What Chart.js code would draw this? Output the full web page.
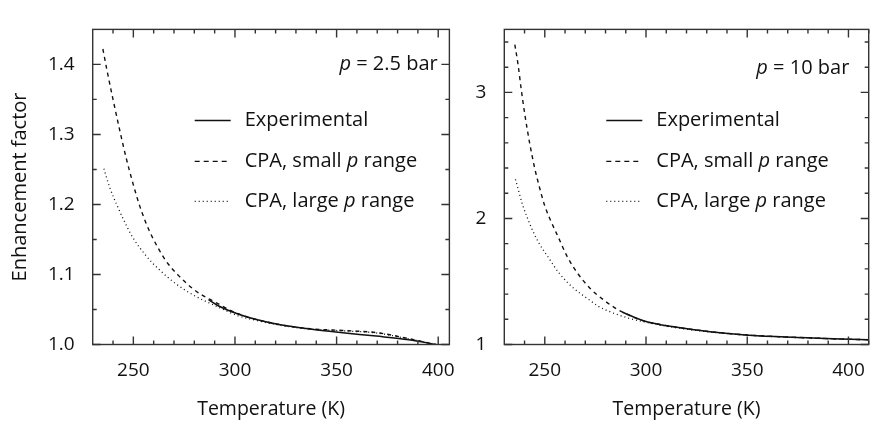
<!DOCTYPE html>
<html>
<head>
<meta charset="utf-8">
<script src="https://cdn.jsdelivr.net/npm/chart.js@4.4.1/dist/chart.umd.min.js"></script>
<style>
  html, body { margin: 0; padding: 0; background: #fff; overflow: hidden; width: 874px; height: 424px; position: relative; }
  canvas { position: absolute; top: 0; }
</style>
</head>
<body>
<canvas id="left" width="470" height="424" style="left:0"></canvas>
<canvas id="right" width="410" height="424" style="left:470px"></canvas>
<script>
const seriesLabels = ['Experimental', 'CPA, small p range', 'CPA, large p range']

// p = 2.5 bar
const t25Exp = [287, 292, 301.5, 310, 321, 337, 353, 369.5, 385.5, 399]
const f25Exp = [1.064, 1.055, 1.0436, 1.036, 1.029, 1.0222, 1.0169, 1.012, 1.0067, 1.0]
const t25Small = [235, 237, 240, 243.3, 246.5, 250, 253, 256, 259.4, 265.9, 272.4, 278.7, 283, 288, 301.5, 321, 337, 353, 369.5, 385.5, 398.7]
const f25Small = [1.422, 1.392, 1.350, 1.306, 1.266, 1.228, 1.199, 1.175, 1.153, 1.120, 1.098, 1.081, 1.072, 1.064, 1.044, 1.029, 1.0225, 1.020, 1.017, 1.0084, 1.0]
const t25Large = [235.5, 238.4, 242.4, 244.9, 249.7, 256.2, 262.7, 270.8, 280.5, 290.2, 301.5, 312.7, 321, 337, 353, 369.5, 385.5, 398.7]
const f25Large = [1.251, 1.224, 1.196, 1.180, 1.153, 1.127, 1.107, 1.087, 1.069, 1.0556, 1.041, 1.033, 1.028, 1.022, 1.0195, 1.0165, 1.008, 1.0]

// p = 10 bar
const t10Exp = [288.4, 299, 315.2, 331.5, 347.7, 363.9, 380, 396.3, 410]
const f10Exp = [1.256, 1.187, 1.137, 1.102, 1.078, 1.063, 1.053, 1.043, 1.038]
const t10Small = [235.2, 236.8, 238.4, 240, 242.5, 245, 247.5, 250, 253, 257, 261, 266, 272.4, 279.7, 284.4, 288.4, 299, 315.2, 331.5, 347.7, 363.9, 380, 396.3, 410]
const f10Small = [3.38, 3.22, 3.02, 2.84, 2.60, 2.40, 2.24, 2.10, 1.98, 1.84, 1.70, 1.57, 1.445, 1.346, 1.293, 1.256, 1.187, 1.137, 1.102, 1.078, 1.063, 1.053, 1.043, 1.038]
const t10Large = [235.5, 239.2, 240.9, 244.1, 247.3, 252.2, 257, 263.5, 271.6, 276.3, 282.8, 290.9, 299, 312, 331.5, 347.7, 363.9, 380, 396.3, 410]
const f10Large = [2.31, 2.10, 2.025, 1.90, 1.80, 1.68, 1.568, 1.457, 1.358, 1.305, 1.256, 1.211, 1.18, 1.14, 1.10, 1.077, 1.062, 1.052, 1.043, 1.038]

const xMajor = [250, 300, 350, 400]
const xMinor = [240, 260, 270, 280, 290, 310, 320, 330, 340, 360, 370, 380, 390, 410]
const y25Major = [1.0, 1.1, 1.2, 1.3, 1.4]
const y25Minor = [1.05, 1.15, 1.25, 1.35]
const y10Major = [1, 2, 3]
const y10Minor = [1.2, 1.4, 1.6, 1.8, 2.2, 2.4, 2.6, 2.8, 3.2, 3.4]

const FONT = '"Open Sans", "DejaVu Sans", sans-serif'
const INK = '#111'

const pts = (t, f) => t.map((v, i) => ({ x: v, y: f[i] }))

// draws text with a standalone "p" in italics
const richParts = (s) => s.split(/(\bp\b)/).filter(x => x.length)
const drawRich = (ctx, s, x, y, align, size) => {
    const parts = richParts(s)
    const fontFor = (p) => (p === 'p' ? 'italic ' : '') + size + 'px ' + FONT
    let w = 0
    parts.forEach(p => { ctx.font = fontFor(p); w += ctx.measureText(p).width })
    let cx = align === 'right' ? x - w : x
    parts.forEach(p => {
        ctx.font = fontFor(p)
        ctx.fillText(p, cx, y)
        cx += ctx.measureText(p).width
    })
}

const framePlugin = {
    id: 'frame',
    afterDatasetsDraw(chart, args, o) {
        const { ctx, chartArea: a, scales } = chart
        const x = scales.x, y = scales.y
        ctx.save()
        ctx.strokeStyle = '#333'
        ctx.lineWidth = 1.4
        ctx.strokeRect(a.left, a.top, a.right - a.left, a.bottom - a.top)
        ctx.beginPath()
        const tick = (vals, len, isX) => vals.forEach(v => {
            if (isX) {
                const px = x.getPixelForValue(v)
                if (px > a.right + 0.5) return
                ctx.moveTo(px, a.bottom); ctx.lineTo(px, a.bottom - len)
                ctx.moveTo(px, a.top); ctx.lineTo(px, a.top + len)
            } else {
                const py = y.getPixelForValue(v)
                ctx.moveTo(a.left, py); ctx.lineTo(a.left + len, py)
                ctx.moveTo(a.right, py); ctx.lineTo(a.right - len, py)
            }
        })
        tick(o.xMajor, 8, true)
        tick(o.xMinor, 4, true)
        tick(o.yMajor, 8, false)
        tick(o.yMinor, 4, false)
        ctx.stroke()

        // legend inside the plot
        ctx.fillStyle = INK
        ctx.textBaseline = 'middle'
        const rows = [91, 132, 172]
        chart.data.datasets.forEach((ds, i) => {
            const ry = a.top + rows[i]
            ctx.beginPath()
            ctx.strokeStyle = INK
            ctx.lineWidth = ds.borderWidth
            ctx.setLineDash(ds.legendDash || [])
            ctx.moveTo(a.left + 102, ry)
            ctx.lineTo(a.left + 138, ry)
            ctx.stroke()
            ctx.setLineDash([])
            drawRich(ctx, ds.label, a.left + 152, ry, 'left', 20)
        })

        // pressure note
        ctx.textBaseline = 'alphabetic'
        drawRich(ctx, o.note, a.left + 345, a.top + o.noteY, 'right', 20)
        ctx.restore()
    }
}

const makeDatasets = (tE, fE, tS, fS, tL, fL) => [
    { label: seriesLabels[0], data: pts(tE, fE), borderColor: INK, borderWidth: 1.5, legendDash: [] },
    { label: seriesLabels[1], data: pts(tS, fS), borderColor: INK, borderWidth: 1.4, borderDash: [4, 4], legendDash: [5, 4] },
    { label: seriesLabels[2], data: pts(tL, fL), borderColor: INK, borderWidth: 1.3, borderDash: [1, 3], legendDash: [1, 3] }
]

const makeChart = (id, datasets, s) => new Chart(document.getElementById(id), {
    type: 'line',
    data: { datasets: datasets },
    plugins: [framePlugin],
    options: {
        responsive: false,
        animation: false,
        layout: { padding: { top: 8, right: s.padRight, left: 0, bottom: 0 } },
        elements: { point: { radius: 0 }, line: { cubicInterpolationMode: 'monotone', fill: false } },
        plugins: {
            legend: { display: false },
            tooltip: { enabled: false },
            frame: { xMajor: xMajor, xMinor: xMinor, yMajor: s.yMajor, yMinor: s.yMinor, note: s.note, noteY: s.noteY }
        },
        scales: {
            x: {
                type: 'linear', min: 230, max: s.xMax,
                afterBuildTicks: (sc) => { sc.ticks = xMajor.map(v => ({ value: v })) },
                afterFit: (sc) => { sc.height = 79.5 },
                grid: { display: false, drawTicks: false },
                border: { display: false },
                ticks: { color: INK, padding: 15, maxRotation: 0, font: { family: FONT, size: 19 }, callback: v => String(v) },
                title: { display: true, text: 'Temperature (K)', color: INK, font: { family: FONT, size: 19.5 }, padding: { top: 0, bottom: 2.5 } }
            },
            y: {
                type: 'linear', min: s.yMin, max: s.yMax,
                afterBuildTicks: (sc) => { sc.ticks = s.yMajor.map(v => ({ value: v })) },
                afterFit: (sc) => { sc.width = s.yWidth },
                grid: { display: false, drawTicks: false },
                border: { display: false },
                ticks: { color: INK, padding: 18, font: { family: FONT, size: 19 }, callback: s.yFmt },
                title: { display: !!s.yTitle, text: s.yTitle || '', color: INK, font: { family: FONT, size: 20 }, padding: { top: 8.5, bottom: 0 } }
            }
        }
    }
})

makeChart('left', makeDatasets(t25Exp, f25Exp, t25Small, f25Small, t25Large, f25Large), {
    padRight: 15.7, xMax: 405.5, yMin: 1.0, yMax: 1.45, yWidth: 92.7,
    yMajor: y25Major, yMinor: y25Minor, yFmt: v => v.toFixed(1),
    yTitle: 'Enhancement factor', note: 'p = 2.5 bar', noteY: 41
})

makeChart('right', makeDatasets(t10Exp, f10Exp, t10Small, f10Small, t10Large, f10Large), {
    padRight: 4.5, xMax: 410, yMin: 1, yMax: 3.5, yWidth: 34.3,
    yMajor: y10Major, yMinor: y10Minor, yFmt: v => String(v),
    yTitle: null, note: 'p = 10 bar', noteY: 45
})
</script>
</body>
</html>
